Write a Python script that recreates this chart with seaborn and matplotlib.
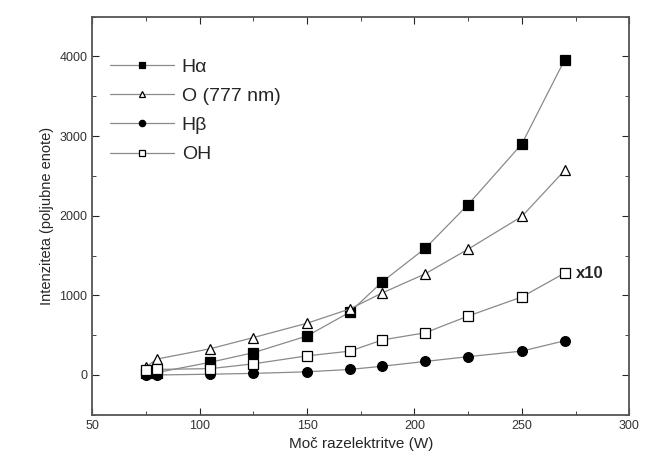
import numpy as np
import pandas as pd
import matplotlib
matplotlib.use('Agg')
import matplotlib.pyplot as plt
import seaborn as sns
from matplotlib.ticker import MultipleLocator

sns.set_style('ticks')
plt.rcParams['font.family'] = ['Liberation Sans', 'DejaVu Sans']

# podatki odčitani s slike
moc = [75, 80, 105, 125, 150, 170, 185, 205, 225, 250, 270]
h_alpha = [20, 30, 160, 280, 490, 790, 1170, 1590, 2140, 2900, 3960]
o_777 = [100, 200, 330, 470, 650, 830, 1030, 1270, 1580, 1990, 2570]
h_beta = [0, 0, 10, 20, 40, 70, 110, 170, 230, 300, 430]
oh_x10 = [60, 70, 80, 140, 240, 300, 440, 530, 740, 980, 1280]

series = [
    ('Hα', h_alpha, 's', 'black'),
    ('O (777 nm)', o_777, '^', 'white'),
    ('Hβ', h_beta, 'o', 'black'),
    ('OH', oh_x10, 's', 'white'),
]

fig, ax = plt.subplots(figsize=(6.5, 4.73), dpi=100)
fig.subplots_adjust(left=0.142, right=0.968, top=0.965, bottom=0.123)

for label, vals, marker, face in series:
    df = pd.DataFrame({'x': moc, 'y': vals})
    sns.lineplot(data=df, x='x', y='y', ax=ax, color='#8a8a8a', linewidth=0.9,
                 marker=marker, markersize=7, markerfacecolor=face,
                 markeredgecolor='black', markeredgewidth=0.9, label=label)

ax.text(275, oh_x10[-1], 'x10', fontsize=12, fontweight='bold', va='center', ha='left')

ax.set_xlim(50, 300)
ax.set_ylim(-500, 4500)
ax.xaxis.set_major_locator(MultipleLocator(50))
ax.xaxis.set_minor_locator(MultipleLocator(25))
ax.yaxis.set_major_locator(MultipleLocator(1000))
ax.yaxis.set_minor_locator(MultipleLocator(500))
ax.tick_params(which='both', direction='in', top=True, right=True, labelsize=9,
               labelcolor='#333333')
ax.tick_params(which='major', length=5)
ax.tick_params(which='minor', length=3)
for s in ax.spines.values():
    s.set_linewidth(1.3)
    s.set_color('#555555')

ax.set_xlabel('Moč razelektritve (W)', fontsize=11)
ax.set_ylabel('Intenziteta (poljubne enote)', fontsize=10.5)

leg = ax.legend(loc='upper left', bbox_to_anchor=(0.0, 0.94), frameon=False,
                fontsize=14, handlelength=3.3, handletextpad=0.4,
                labelspacing=0.6, markerscale=0.65)

plt.savefig('out.png', dpi=100)
